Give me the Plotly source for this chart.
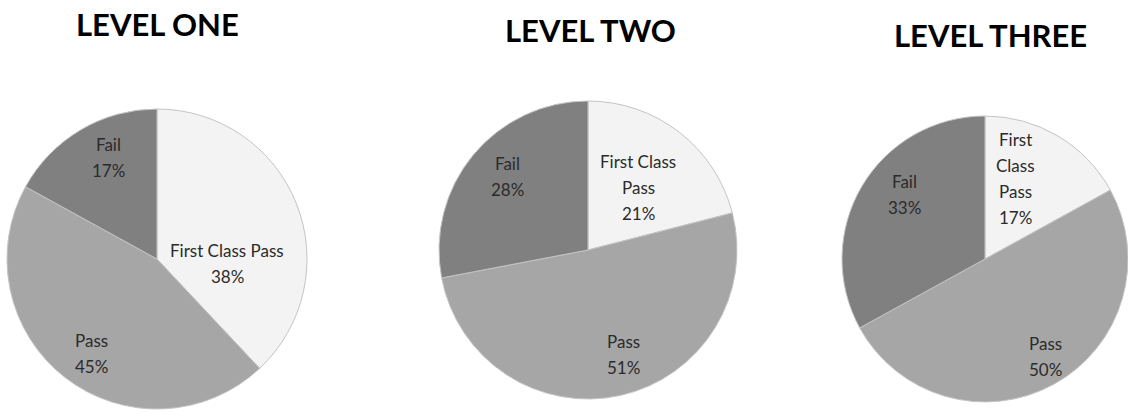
import math
import plotly.graph_objects as go

categories = ["First Class Pass", "Pass", "Fail"]
level_titles = ["LEVEL ONE", "LEVEL TWO", "LEVEL THREE"]
level_one = [38, 45, 17]
level_two = [21, 51, 28]
level_three = [17, 50, 33]
display_one = ["First Class Pass", "Pass", "Fail"]
display_two = ["First Class<br>Pass", "Pass", "Fail"]
display_three = ["First<br>Class<br>Pass", "Pass", "Fail"]
slice_colors = ["#f3f3f3", "#a6a6a6", "#808080"]

W, H = 1128, 419
# pie centres (px) and radii (layout, not data)
centres = [(157, 259), (588, 250), (985, 259)]
radii = [150, 149, 143]
title_pos = [(157, 24), (590, 30), (990, 35)]
# label placement (fraction of radius, angular nudge in degrees) per slice
label_radius = [[0.47, 0.77, 0.75], [0.54, 0.74, 0.73], [0.60, 0.80, 0.72]]
label_nudge = [[25, -3, 5], [1, -6, 3], [-10, -3, 8]]
LINE_GAP = 26

fig = go.Figure()
series = [level_one, level_two, level_three]
displays = [display_one, display_two, display_three]
for k, (vals, disp, (cx, cy), r) in enumerate(zip(series, displays, centres, radii)):
    fig.add_trace(go.Pie(
        labels=categories,
        values=vals,
        sort=False,
        direction="clockwise",
        rotation=0,
        textinfo="none",
        marker=dict(colors=slice_colors, line=dict(color="#c4c4c4", width=1)),
        domain=dict(x=[max(0, (cx - r) / W), min(1, (cx + r) / W)],
                    y=[max(0, (H - cy - r) / H), min(1, (H - cy + r) / H)]),
        showlegend=False,
        hoverinfo="label+percent",
    ))
    total = sum(vals)
    cum = 0
    for i, v in enumerate(vals):
        mid = (cum + v / 2) / total * 360 + label_nudge[k][i]
        cum += v
        rad = math.radians(mid)
        px = cx + label_radius[k][i] * r * math.sin(rad)
        py = cy - label_radius[k][i] * r * math.cos(rad)
        pct = round(100 * v / total)
        lines = disp[i].split("<br>") + [f"{pct}%"]
        n = len(lines)
        for j, line in enumerate(lines):
            ly = py + (j - (n - 1) / 2) * LINE_GAP
            fig.add_annotation(text=line, x=px / W, y=1 - ly / H,
                               xref="paper", yref="paper", showarrow=False,
                               xanchor="center", yanchor="middle", align="center",
                               font=dict(family="Lato", size=17, color="#2b2b2b"))

for t, (tx, ty) in zip(level_titles, title_pos):
    fig.add_annotation(text="<b>" + t + "</b>", x=tx / W, y=1 - ty / H,
                       xref="paper", yref="paper", showarrow=False,
                       xanchor="center", yanchor="middle",
                       font=dict(family="Lato", size=31, color="#000000"))

fig.update_layout(width=W, height=H, margin=dict(l=0, r=0, t=0, b=0),
                  paper_bgcolor="white", plot_bgcolor="white")
fig.write_html("out.html")
